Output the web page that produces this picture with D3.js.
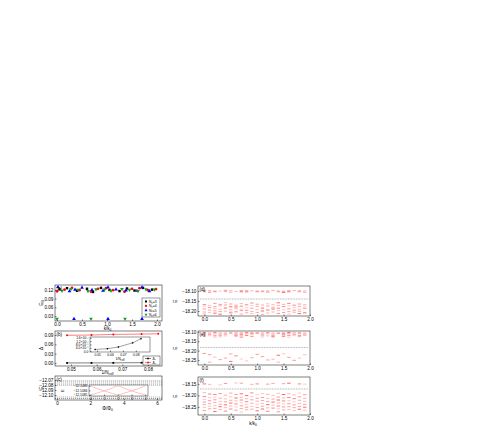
<!DOCTYPE html>
<html><head><meta charset="utf-8">
<script src="https://cdn.jsdelivr.net/npm/d3@7"></script>
<style>
body{margin:0;background:#fff}
text{font-family:"Liberation Sans",Arial,sans-serif;fill:#000}
</style>
</head><body>
<svg id="c" width="491" height="436"></svg>
<script>
// ---------- DATA ----------
// (a) binding energy vs k/k0
const aTicksX = [0.0, 0.5, 1.0, 1.5, 2.0];
const aTicksY = [0.03, 0.06, 0.09, 0.12];
const aLegend = ["N_c=3", "N_c=4", "N_c=5", "N_c=6"];
const aK1 = [0.05,0.2,0.4,0.6,0.72,0.88,1.05,1.25,1.4,1.55,1.72,1.9];
const aE1 = [0.122,0.126,0.117,0.124,0.113,0.127,0.12,0.116,0.125,0.118,0.127,0.121];
const aK2 = [0.0,0.15,0.3,0.45,0.68,0.82,0.98,1.12,1.35,1.5,1.65,1.82,1.98];
const aE2 = [0.115,0.121,0.127,0.119,0.114,0.124,0.126,0.119,0.114,0.124,0.126,0.119,0.123];
const aK3 = [0.02,0.25,0.36,0.5,0.7,0.92,1.02,1.18,1.38,1.6,1.7,1.85,0.34,1.02,1.70];
const aE3 = [0.130,0.116,0.121,0.128,0.12,0.117,0.129,0.122,0.118,0.117,0.129,0.116,0.020,0.020,0.020];
const aK4 = [0.1,0.28,0.42,0.62,0.78,0.95,1.08,1.3,1.45,1.62,1.78,1.95,0.0,0.68,1.36];
const aE4 = [0.117,0.123,0.12,0.116,0.122,0.121,0.117,0.123,0.12,0.116,0.122,0.121,0.020,0.020,0.020];

// (b) gaps vs 1/N_cell
const bTicksX = [0.05, 0.06, 0.07, 0.08];
const bTicksY = [0.00, 0.03, 0.06, 0.09];
const bX = [0.0485, 0.058, 0.0665, 0.0775, 0.084];
const bDelta1 = [0.0002, 0.0003, 0.0005, 0.0010, 0.0015];
const bDelta2 = [0.089, 0.090, 0.092, 0.093, 0.094];
const bInsetTicksY = [0, 0.0004, 0.0008, 0.0012, 0.0016];
const bInsetTickLabels = ["0.0", "4.0×10⁻⁴", "8.0×10⁻⁴", "1.2×10⁻³", "1.6×10⁻³"];
const bLegend = ["Δ₁", "Δ₂"];

// (c) energy vs flux
const cTicksX = [0, 2, 4, 6];
const cTicksY = [-12.07, -12.08, -12.09, -12.10];
const cDashTop = [-12.072, -12.076, -12.080];
const cDashBot = [-12.104, -12.107];
const cPhi = [0, 0.5, 1, 1.5, 2, 2.5, 3, 3.5, 4];
const cCurve1 = [-12.10830,-12.10836,-12.10841,-12.10846,-12.10850,-12.10846,-12.10841,-12.10836,-12.10830];
const cCurve2 = [-12.10850,-12.10846,-12.10841,-12.10836,-12.10830,-12.10836,-12.10841,-12.10846,-12.10850];
const cInsetTicksX = [0, 1, 2, 3, 4];
const cInsetTicksY = [-12.1083, -12.1084, -12.1085];

// (d)(e)(f) spectra vs k/k0
const kGrid = [0.0,0.1,0.2,0.3,0.4,0.5,0.6,0.7,0.8,0.9,1.0,1.1,1.2,1.3,1.4,1.5,1.6,1.7,1.8,1.9];
const rTicksX = [0.0, 0.5, 1.0, 1.5, 2.0];
const dTicksY = [-18.10, -18.15, -18.20];
const eTicksY = [-18.10, -18.15, -18.20, -18.25];
const fTicksY = [-18.15, -18.20, -18.25];
const dDash = -18.140, eDash = -18.183, fDash = -18.172;
const dLevels = [
 [-18.099,-18.104,-18.168,-18.176,-18.190,-18.205,-18.214],
 [-18.098,-18.106,-18.172,-18.183,-18.196,-18.208],
 [-18.101,-18.105,-18.162,-18.178,-18.187,-18.199,-18.211],
 [-18.100,-18.167,-18.174,-18.192,-18.203,-18.216],
 [-18.097,-18.103,-18.158,-18.170,-18.185,-18.201],
 [-18.099,-18.107,-18.165,-18.179,-18.194,-18.206,-18.212],
 [-18.102,-18.171,-18.180,-18.189,-18.204],
 [-18.098,-18.104,-18.163,-18.176,-18.191,-18.198,-18.215],
 [-18.100,-18.106,-18.169,-18.184,-18.197,-18.209],
 [-18.099,-18.160,-18.173,-18.186,-18.202,-18.213],
 [-18.101,-18.105,-18.166,-18.177,-18.193,-18.207],
 [-18.098,-18.103,-18.170,-18.182,-18.188,-18.200,-18.217],
 [-18.100,-18.106,-18.164,-18.175,-18.195,-18.210],
 [-18.097,-18.168,-18.181,-18.190,-18.205],
 [-18.099,-18.104,-18.159,-18.172,-18.186,-18.198,-18.212],
 [-18.101,-18.107,-18.167,-18.178,-18.194,-18.208],
 [-18.100,-18.105,-18.162,-18.174,-18.189,-18.203,-18.215],
 [-18.098,-18.171,-18.183,-18.196,-18.206],
 [-18.100,-18.104,-18.165,-18.177,-18.191,-18.201,-18.213],
 [-18.099,-18.106,-18.169,-18.180,-18.187,-18.209]
];
const eLevels = [
 [-18.104,-18.110,-18.117,-18.125,-18.215],
 [-18.105,-18.112,-18.120,-18.222,-18.262],
 [-18.103,-18.109,-18.118,-18.127,-18.235],
 [-18.104,-18.111,-18.119,-18.126,-18.248],
 [-18.106,-18.113,-18.121,-18.240],
 [-18.104,-18.108,-18.218,-18.258],
 [-18.103,-18.110,-18.117,-18.124,-18.228],
 [-18.105,-18.112,-18.120,-18.128,-18.245],
 [-18.104,-18.111,-18.119,-18.255],
 [-18.103,-18.109,-18.116,-18.125,-18.238],
 [-18.105,-18.108,-18.220],
 [-18.104,-18.111,-18.118,-18.127,-18.232],
 [-18.103,-18.110,-18.121,-18.250],
 [-18.106,-18.112,-18.119,-18.126,-18.246],
 [-18.104,-18.108,-18.225,-18.262],
 [-18.105,-18.111,-18.117,-18.124,-18.217],
 [-18.103,-18.109,-18.118,-18.128,-18.236],
 [-18.104,-18.112,-18.120,-18.252],
 [-18.105,-18.110,-18.119,-18.125,-18.240],
 [-18.104,-18.111,-18.118,-18.222]
];
const fLevels = [
 [-18.150,-18.188,-18.205,-18.218,-18.229,-18.240,-18.252,-18.266],
 [-18.152,-18.194,-18.210,-18.223,-18.236,-18.247,-18.258],
 [-18.196,-18.207,-18.219,-18.231,-18.244,-18.256,-18.270],
 [-18.154,-18.192,-18.212,-18.226,-18.238,-18.249,-18.261],
 [-18.148,-18.199,-18.215,-18.228,-18.241,-18.253,-18.268],
 [-18.190,-18.206,-18.221,-18.233,-18.246,-18.259],
 [-18.146,-18.196,-18.211,-18.224,-18.237,-18.250,-18.264],
 [-18.147,-18.193,-18.208,-18.220,-18.232,-18.245,-18.257,-18.272],
 [-18.201,-18.214,-18.227,-18.239,-18.251,-18.262],
 [-18.152,-18.189,-18.205,-18.219,-18.234,-18.248,-18.260],
 [-18.150,-18.197,-18.212,-18.225,-18.238,-18.252,-18.267],
 [-18.192,-18.209,-18.222,-18.235,-18.247,-18.259],
 [-18.151,-18.195,-18.213,-18.227,-18.240,-18.254,-18.269],
 [-18.148,-18.200,-18.216,-18.229,-18.242,-18.255],
 [-18.191,-18.207,-18.220,-18.233,-18.246,-18.258,-18.271],
 [-18.149,-18.196,-18.211,-18.224,-18.237,-18.250,-18.263],
 [-18.147,-18.193,-18.209,-18.223,-18.236,-18.249,-18.261],
 [-18.198,-18.214,-18.228,-18.241,-18.253,-18.266],
 [-18.150,-18.190,-18.206,-18.221,-18.235,-18.248,-18.260],
 [-18.151,-18.197,-18.212,-18.226,-18.239,-18.251,-18.264]
];

// ---------- DRAW ----------
const svg = d3.select("#c");
const FS = 4.6;
const markOpac = [0.8,0.4,0.65,0.3,0.55,0.45,0.35,0.5];

function frame(x0, x1, y0, y1) {
  svg.append("rect").attr("x", x0).attr("y", y0).attr("width", x1 - x0).attr("height", y1 - y0)
    .attr("fill", "none").attr("stroke", "#000").attr("stroke-width", 0.5);
}
function axisB(x, yPos, ticks, fmt, size) {
  const g = svg.append("g").attr("transform", `translate(0,${yPos})`)
    .call(d3.axisBottom(x).tickValues(ticks).tickFormat(fmt).tickSize(-1.5).tickPadding(1.6));
  g.select(".domain").remove();
  g.selectAll("line").attr("stroke-width", 0.5);
  g.selectAll("text").attr("font-size", size || FS).attr("font-family", "Liberation Sans, Arial");
  return g;
}
function axisL(y, xPos, ticks, fmt, size) {
  const g = svg.append("g").attr("transform", `translate(${xPos},0)`)
    .call(d3.axisLeft(y).tickValues(ticks).tickFormat(fmt).tickSize(-1.5).tickPadding(1.6));
  g.select(".domain").remove();
  g.selectAll("line").attr("stroke-width", 0.5);
  g.selectAll("text").attr("font-size", size || FS).attr("font-family", "Liberation Sans, Arial");
  return g;
}
function label(t, x, y, size, rot) {
  const el = svg.append("text").attr("x", x).attr("y", y).attr("font-size", size || FS)
    .attr("text-anchor", "middle").text(t);
  if (rot) el.attr("transform", `rotate(-90,${x},${y})`);
  return el;
}

// ----- (a) -----
{
  const L = 55, R = 162, T = 285, B = 321;
  const x = d3.scaleLinear().domain([-0.04, 2.1]).range([L, R]);
  const y = d3.scaleLinear().domain([0.0127, 0.137]).range([B, T]);
  frame(L, R, T, B);
  axisB(x, B, aTicksX, d3.format(".1f"));
  axisL(y, L, aTicksY, d3.format(".2f"));
  const series = [
    {k: aK1, e: aE1, c: "#000000", s: d3.symbolSquare},
    {k: aK2, e: aE2, c: "#ff0000", s: d3.symbolCircle},
    {k: aK3, e: aE3, c: "#0000ff", s: d3.symbolTriangle},
    {k: aK4, e: aE4, c: "#1f9e1f", s: d3.symbolTriangle, flip: true}
  ];
  series.forEach(sr => {
    svg.append("g").selectAll("path").data(sr.k).join("path")
      .attr("d", d3.symbol().type(sr.s).size(6))
      .attr("transform", (d, i) => `translate(${x(d)},${y(sr.e[i])})${sr.flip ? " rotate(180)" : ""}`)
      .attr("fill", sr.c);
  });
  svg.append("text").attr("x", L + 1.5).attr("y", T + 5).attr("font-size", FS).text("(a)");
  label("E", 43, (T + B) / 2, 5, true).append("tspan").attr("font-size", 3.5).attr("dy", 1).text("B");
  const kt = label("k/k", (L + R) / 2 - 1, B + 9, FS);
  kt.append("tspan").attr("font-size", 3.3).attr("dy", 1).text("0");
  const lg = svg.append("g");
  lg.append("rect").attr("x", 142).attr("y", 298).attr("width", 18).attr("height", 19)
    .attr("fill", "#fff").attr("stroke", "#000").attr("stroke-width", 0.4);
  series.forEach((sr, i) => {
    const yy = 301.5 + i * 4.4;
    lg.append("path").attr("d", d3.symbol().type(sr.s).size(4))
      .attr("transform", `translate(146,${yy})${sr.flip ? " rotate(180)" : ""}`).attr("fill", sr.c);
    const t = lg.append("text").attr("x", 149).attr("y", yy + 1.3).attr("font-size", 3.4);
    const parts = aLegend[i].split("_");
    t.append("tspan").text(parts[0]);
    t.append("tspan").attr("font-size", 2.6).attr("dy", 0.7).text(parts[1].split("=")[0]);
    t.append("tspan").attr("dy", -0.7).text("=" + parts[1].split("=")[1]);
  });
}

// ----- (b) -----
{
  const L = 55, R = 162, T = 331, B = 366;
  const x = d3.scaleLinear().domain([0.0438, 0.08545]).range([L, R]);
  const y = d3.scaleLinear().domain([-0.0096, 0.1029]).range([B, T]);
  frame(L, R, T, B);
  axisB(x, B, bTicksX, d3.format(".2f"));
  axisL(y, L, bTicksY, d3.format(".2f"));
  const lineR = d3.line().x((d, i) => x(bX[i])).y(d => y(d));
  svg.append("path").attr("d", lineR(bDelta2)).attr("fill", "none").attr("stroke", "#ff0000").attr("stroke-width", 0.5);
  svg.append("path").attr("d", lineR(bDelta1)).attr("fill", "none").attr("stroke", "#000").attr("stroke-width", 0.5);
  svg.append("g").selectAll("circle").data(bDelta2).join("circle")
    .attr("cx", (d, i) => x(bX[i])).attr("cy", d => y(d)).attr("r", 1).attr("fill", "#ff0000");
  svg.append("g").selectAll("rect").data(bDelta1).join("rect")
    .attr("x", (d, i) => x(bX[i]) - 0.9).attr("y", d => y(d) - 0.9).attr("width", 1.8).attr("height", 1.8).attr("fill", "#000");
  svg.append("text").attr("x", L + 1.5).attr("y", T + 5).attr("font-size", FS).text("(b)");
  label("Δ", 43, (T + B) / 2, 5, true);
  const tt = label("1/N", (L + R) / 2 - 1, B + 7.5, FS);
  tt.append("tspan").attr("font-size", 3.3).attr("dy", 1).text("cell");
  const iL = 90, iR = 150, iT = 337, iB = 352;
  const xi = d3.scaleLinear().domain([0.0445, 0.0910]).range([iL, iR]);
  const yi = d3.scaleLinear().domain([-0.0001, 0.0017]).range([iB, iT]);
  svg.append("rect").attr("x", iL).attr("y", iT).attr("width", iR - iL).attr("height", iB - iT)
    .attr("fill", "#fff").attr("stroke", "#000").attr("stroke-width", 0.4);
  axisB(xi, iB, bTicksX, d3.format(".2f"), 3.3);
  axisL(yi, iL, bInsetTicksY, (d, i) => bInsetTickLabels[i], 3.3);
  const lineI = d3.line().x((d, i) => xi(bX[i])).y(d => yi(d));
  svg.append("path").attr("d", lineI(bDelta1)).attr("fill", "none").attr("stroke", "#444").attr("stroke-width", 0.5);
  svg.append("g").selectAll("rect").data(bDelta1).join("rect")
    .attr("x", (d, i) => xi(bX[i]) - 0.7).attr("y", d => yi(d) - 0.7).attr("width", 1.4).attr("height", 1.4).attr("fill", "#000");
  const ti = label("1/N", (iL + iR) / 2, iB + 8, 3.3);
  ti.append("tspan").attr("font-size", 2.6).attr("dy", 0.8).text("cell");
  svg.append("rect").attr("x", 143).attr("y", 356).attr("width", 17).attr("height", 9)
    .attr("fill", "#fff").attr("stroke", "#000").attr("stroke-width", 0.4);
  [["#000", "sq"], ["#ff0000", "ci"]].forEach((c, i) => {
    const yy = 358.5 + i * 4;
    svg.append("line").attr("x1", 145).attr("x2", 151).attr("y1", yy).attr("y2", yy).attr("stroke", c[0]).attr("stroke-width", 0.5);
    if (c[1] === "sq") svg.append("rect").attr("x", 147.2).attr("y", yy - 0.8).attr("width", 1.6).attr("height", 1.6).attr("fill", c[0]);
    else svg.append("circle").attr("cx", 148).attr("cy", yy).attr("r", 0.9).attr("fill", c[0]);
    svg.append("text").attr("x", 152.5).attr("y", yy + 1.3).attr("font-size", 3.4).text(bLegend[i]);
  });
}

// ----- (c) -----
{
  const L = 55, R = 162, T = 376, B = 400;
  const x = d3.scaleLinear().domain([-0.12, 6.3]).range([L, R]);
  const y = d3.scaleLinear().domain([-12.110, -12.062]).range([B, T]);
  frame(L, R, T, B);
  axisB(x, B, cTicksX, d3.format("d"));
  axisL(y, L, cTicksY, d3.format(".2f"));
  cDashTop.concat(cDashBot).forEach((v, i) => {
    svg.append("line").attr("x1", L).attr("x2", R).attr("y1", y(v)).attr("y2", y(v))
      .attr("stroke", i % 2 ? "#555" : "#222").attr("stroke-width", 0.45).attr("stroke-dasharray", "1.2,0.8");
  });
  svg.append("text").attr("x", L + 1.5).attr("y", T + 4.8).attr("font-size", FS).text("(c)");
  label("E", 43, (T + B) / 2, 5, true);
  const tt = label("Φ/Φ", (L + R) / 2 - 1, B + 10, FS);
  tt.append("tspan").attr("font-size", 3.3).attr("dy", 1).text("0");
  const iL = 89, iR = 148, iT = 385, iB = 396;
  const xi = d3.scaleLinear().domain([-0.1, 4.2]).range([iL, iR]);
  const yi = d3.scaleLinear().domain([-12.108525, -12.10828]).range([iB, iT]);
  svg.append("rect").attr("x", iL).attr("y", iT).attr("width", iR - iL).attr("height", iB - iT)
    .attr("fill", "#fff").attr("stroke", "#000").attr("stroke-width", 0.4);
  axisB(xi, iB, cInsetTicksX, d3.format("d"), 3.3);
  axisL(yi, iL, cInsetTicksY, d3.format(".4f"), 3.3);
  const lc = d3.line().curve(d3.curveMonotoneX).x((d, i) => xi(cPhi[i])).y(d => yi(d));
  [cCurve1, cCurve2].forEach(cv => svg.append("path").attr("d", lc(cv)).attr("fill", "none")
    .attr("stroke", "#ff8080").attr("stroke-width", 0.5));
  label("E", 64, (iT + iB) / 2, 3.8, true);
}

// ----- (d)(e)(f) -----
function spectrum(T, B, dom, ticks, levels, dash, tag, showTitle) {
  const L = 198, R = 310;
  const x = d3.scaleLinear().domain([-0.12, 2.0]).range([L, R]);
  const y = d3.scaleLinear().domain(dom).range([B, T]);
  frame(L, R, T, B);
  axisB(x, B, rTicksX, d3.format(".1f"));
  axisL(y, L, ticks, d3.format(".2f"));
  svg.append("line").attr("x1", L + 2).attr("x2", R - 2).attr("y1", y(dash)).attr("y2", y(dash))
    .attr("stroke", "#666").attr("stroke-width", 0.5).attr("stroke-dasharray", "0.9,0.7");
  const marks = [];
  levels.forEach((arr, i) => arr.forEach((v, j) => marks.push({k: kGrid[i], v, o: markOpac[(i + j) % markOpac.length]})));
  svg.append("g").selectAll("line").data(marks).join("line")
    .attr("x1", d => x(d.k) - 1.7).attr("x2", d => x(d.k) + 1.7)
    .attr("y1", d => y(d.v)).attr("y2", d => y(d.v))
    .attr("stroke", "#ff2a2a").attr("stroke-opacity", d => d.o).attr("stroke-width", 0.9);
  svg.append("text").attr("x", L + 1.5).attr("y", T + 4.8).attr("font-size", FS).text(tag);
  label("E", 177, (T + B) / 2, 5, true);
  if (showTitle) {
    const kt = label("k/k", (L + R) / 2 - 1, B + 9.5, FS);
    kt.append("tspan").attr("font-size", 3.3).attr("dy", 1).text("0");
  }
}
spectrum(286, 316, [-18.225, -18.075], dTicksY, dLevels, dDash, "(d)", false);
spectrum(331, 365, [-18.277, -18.095], eTicksY, eLevels, eDash, "(e)", false);
spectrum(377, 415, [-18.285, -18.12], fTicksY, fLevels, fDash, "(f)", true);
</script>
</body></html>
